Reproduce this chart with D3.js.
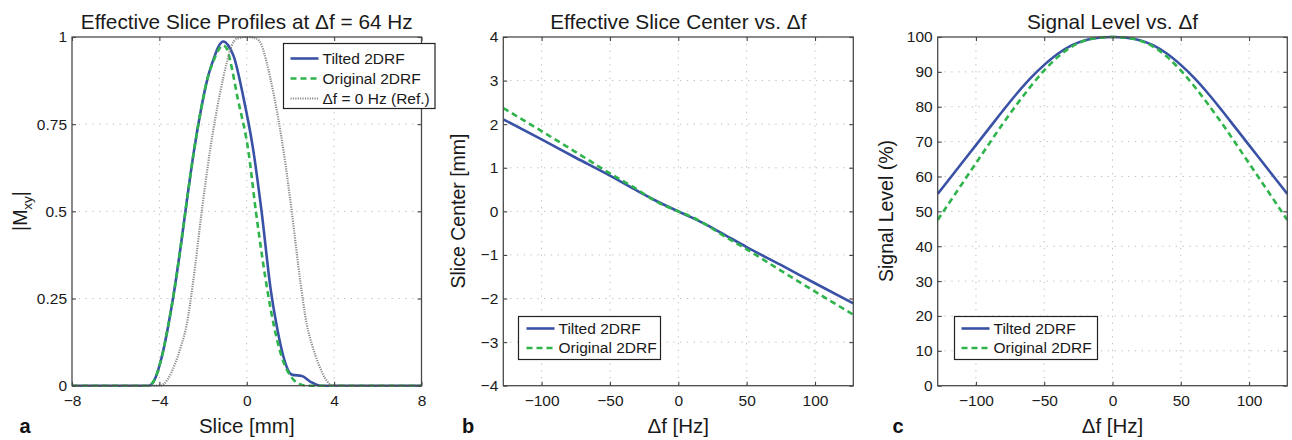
<!DOCTYPE html>
<html>
<head>
<meta charset="utf-8">
<script src="https://cdn.jsdelivr.net/npm/d3@7"></script>
<style>
  body { margin: 0; background: #fff; }
  svg { display: block; font-family: "Liberation Sans", Arial, Helvetica, sans-serif; }
</style>
</head>
<body>
<svg id="chart"></svg>
<script>
// ---- data ----
const sliceTicks = [-8, -4, 0, 4, 8];
const mxyTicks = [0, 0.25, 0.5, 0.75, 1];
const dfTicks = [-100, -50, 0, 50, 100];
const centerTicks = [-4, -3, -2, -1, 0, 1, 2, 3, 4];
const levelTicks = [0, 10, 20, 30, 40, 50, 60, 70, 80, 90, 100];

// panel a: slice profiles at df = 64 Hz
const tiltedSliceX = [-8, -4.5, -4.2, -3.9, -3.6, -3.3, -3.0, -2.7, -2.4, -2.1, -1.8, -1.5, -1.3, -1.07, -0.85, -0.6, -0.16, 0.30, 0.68, 1.1, 1.35, 1.68, 1.95, 2.1, 2.52, 2.9, 3.36, 8];
const tiltedSliceY = [0, 0, 0.02, 0.08, 0.17, 0.28, 0.41, 0.55, 0.68, 0.79, 0.88, 0.94, 0.972, 0.987, 0.976, 0.945, 0.829, 0.675, 0.499, 0.274, 0.179, 0.083, 0.038, 0.031, 0.028, 0.012, 0, 0];
const originalSliceX = [-8, -4.5, -4.2, -3.9, -3.6, -3.3, -3.0, -2.7, -2.4, -2.1, -1.8, -1.5, -1.3, -1.1, -0.9, -0.75, -0.43, 0.07, 0.42, 1.02, 1.22, 1.60, 2.16, 2.5, 2.75, 8];
const originalSliceY = [0, 0, 0.02, 0.08, 0.17, 0.28, 0.41, 0.55, 0.68, 0.79, 0.88, 0.935, 0.962, 0.976, 0.965, 0.93, 0.829, 0.675, 0.499, 0.246, 0.179, 0.083, 0.016, 0.003, 0, 0];
const refSliceX = [-8, -3.97, -3.6, -3.3, -3.0, -2.75, -2.45, -2.06, -1.68, -1.22, -0.92, -0.69, -0.46, 0, 0.46, 0.69, 0.92, 1.22, 1.68, 2.06, 2.45, 2.75, 3.0, 3.3, 3.6, 3.92, 8];
const refSliceY = [0, 0, 0.02, 0.06, 0.115, 0.175, 0.30, 0.5, 0.675, 0.84, 0.925, 0.975, 0.995, 1, 0.995, 0.975, 0.925, 0.84, 0.675, 0.5, 0.30, 0.175, 0.115, 0.06, 0.02, 0, 0];

// panel b: effective slice center vs df
const centerDf = [-128, -100, -75, -50, -30, -20, -10, 0, 10, 20, 30, 50, 75, 100, 128];
const centerTilted = [2.11, 1.65, 1.23, 0.82, 0.47, 0.30, 0.145, 0, -0.145, -0.30, -0.47, -0.82, -1.23, -1.65, -2.11];
const centerOriginal = [2.37, 1.84, 1.36, 0.87, 0.50, 0.30, 0.13, 0, -0.13, -0.30, -0.50, -0.87, -1.36, -1.84, -2.37];

// panel c: signal level vs df
const levelDf = [-128, -120, -110, -100, -90, -80, -70, -60, -50, -40, -30, -20, -10, 0, 10, 20, 30, 40, 50, 60, 70, 80, 90, 100, 110, 120, 128];
const levelTilted = [55, 59, 64, 69, 74, 79, 83.8, 88.2, 92, 95.2, 97.6, 99.1, 99.8, 100, 99.8, 99.1, 97.6, 95.2, 92, 88.2, 83.8, 79, 74, 69, 64, 59, 55];
const levelOriginal = [47.5, 52.2, 58, 63.8, 69.6, 75.3, 80.7, 85.8, 90.4, 94.3, 97.2, 99, 99.8, 100, 99.8, 99, 97.2, 94.3, 90.4, 85.8, 80.7, 75.3, 69.6, 63.8, 58, 52.2, 47.5];

const seriesNames = ["Tilted 2DRF", "Original 2DRF", "\u0394f = 0 Hz (Ref.)"];

// ---- styles ----
const BLUE = "#3a52a5", GREEN = "#2fb44b", GRAY = "#8c8c8c";
const styles = [
  { color: BLUE, width: 2.6, dash: null },
  { color: GREEN, width: 2.6, dash: "6,4" },
  { color: GRAY, width: 2.2, dash: "1.2,1.2" }
];

const width = 1292, height = 440;
const svg = d3.select("#chart").attr("width", width).attr("height", height);

const plotTop = 37, plotBottom = 385.7;

function drawPanel(o) {
  const x = d3.scaleLinear().domain(o.xDomain).range([o.left, o.right]);
  const y = d3.scaleLinear().domain(o.yDomain).range([plotBottom, plotTop]);
  const g = svg.append("g");

  // grid
  g.append("g").selectAll("line").data(o.xTicks.filter(t => t > o.xDomain[0] && t < o.xDomain[1]))
    .join("line")
    .attr("x1", d => x(d)).attr("x2", d => x(d)).attr("y1", plotTop).attr("y2", plotBottom)
    .attr("stroke", "#bdbdbd").attr("stroke-width", 1).attr("stroke-dasharray", "1.3,5.5");
  g.append("g").selectAll("line").data(o.yTicks.filter(t => t > o.yDomain[0] && t < o.yDomain[1]))
    .join("line")
    .attr("y1", d => y(d)).attr("y2", d => y(d)).attr("x1", o.left).attr("x2", o.right)
    .attr("stroke", "#bdbdbd").attr("stroke-width", 1).attr("stroke-dasharray", "1.3,5.5");

  // series
  o.series.forEach((s, i) => {
    const st = styles[i];
    const line = d3.line().x(d => x(d[0])).y(d => y(d[1])).curve(d3.curveMonotoneX);
    g.append("path")
      .datum(d3.zip(s.x, s.y))
      .attr("d", line)
      .attr("fill", "none")
      .attr("stroke", st.color)
      .attr("stroke-width", st.width)
      .attr("stroke-dasharray", st.dash);
  });

  // axes: ticks inside on all four sides
  const tl = 4;
  const axB = g.append("g").attr("transform", `translate(0,${plotBottom})`)
    .call(d3.axisBottom(x).tickValues(o.xTicks).tickSize(-tl).tickPadding(8).tickFormat(o.xFormat || (d => d)));
  const axT = g.append("g").attr("transform", `translate(0,${plotTop})`)
    .call(d3.axisTop(x).tickValues(o.xTicks).tickSize(-tl).tickFormat(""));
  const axL = g.append("g").attr("transform", `translate(${o.left},0)`)
    .call(d3.axisLeft(y).tickValues(o.yTicks).tickSize(-tl).tickPadding(5).tickFormat(o.yFormat || (d => d)));
  const axR = g.append("g").attr("transform", `translate(${o.right},0)`)
    .call(d3.axisRight(y).tickValues(o.yTicks).tickSize(-tl).tickFormat(""));
  [axB, axT, axL, axR].forEach(a => {
    a.select(".domain").remove();
    a.selectAll(".tick line").attr("stroke", "#444").attr("stroke-width", 1.1);
    a.selectAll("text").attr("fill", "#1a1a1a").style("font-size", "15.5px")
      .style("font-family", "'Liberation Sans', Arial, sans-serif");
  });
  axB.selectAll(".tick text").attr("dy", "0.71em").attr("y", 9);

  g.append("rect")
    .attr("x", o.left).attr("y", plotTop).attr("width", o.right - o.left).attr("height", plotBottom - plotTop)
    .attr("fill", "none").attr("stroke", "#4a4a4a").attr("stroke-width", 1.3);

  // title and labels
  g.append("text").attr("x", (o.left + o.right) / 2).attr("y", 28.5)
    .attr("text-anchor", "middle").style("font-size", "20.8px").attr("fill", "#1a1a1a").text(o.title);
  g.append("text").attr("x", (o.left + o.right) / 2).attr("y", 432.5)
    .attr("text-anchor", "middle").style("font-size", "20.5px").attr("fill", "#1a1a1a").text(o.xLabel);
  const yl = g.append("text").attr("transform", `translate(${o.yLabelX},211) rotate(-90)`)
    .attr("text-anchor", "middle").style("font-size", "19.5px").attr("fill", "#1a1a1a");
  if (o.yLabelSub) {
    yl.append("tspan").text(o.yLabel[0]);
    yl.append("tspan").attr("dy", 5).style("font-size", "13.5px").text(o.yLabelSub);
    yl.append("tspan").attr("dy", -5).text(o.yLabel[1]);
  } else {
    yl.text(o.yLabel);
  }
  g.append("text").attr("x", o.letterX).attr("y", 432.5).attr("text-anchor", "middle")
    .style("font-size", "20px").style("font-weight", "bold").attr("fill", "#111").text(o.letter);

  // legend
  const lg = o.legend;
  g.append("rect").attr("x", lg.x).attr("y", lg.y).attr("width", lg.w).attr("height", lg.h)
    .attr("fill", "#fff").attr("stroke", "#222").attr("stroke-width", 1.2);
  o.series.forEach((s, i) => {
    const st = styles[i];
    const ry = lg.y + lg.row0 + i * lg.rowStep;
    g.append("line").attr("x1", lg.x + lg.lx0).attr("x2", lg.x + lg.lx1).attr("y1", ry).attr("y2", ry)
      .attr("stroke", st.color).attr("stroke-width", st.width).attr("stroke-dasharray", st.dash);
    g.append("text").attr("x", lg.x + lg.tx).attr("y", ry).attr("dy", "0.35em")
      .style("font-size", "15.5px").attr("fill", "#1a1a1a").text(seriesNames[i]);
  });
}

drawPanel({
  left: 72, right: 421.5, xDomain: [-8, 8], yDomain: [0, 1],
  xTicks: sliceTicks, yTicks: mxyTicks,
  xFormat: d => String(d).replace("-", "\u2212"),
  yFormat: d => d,
  title: "Effective Slice Profiles at \u0394f = 64 Hz",
  xLabel: "Slice [mm]", yLabel: ["|M", "|"], yLabelSub: "xy", yLabelX: 27,
  letter: "a", letterX: 25,
  series: [
    { x: tiltedSliceX, y: tiltedSliceY },
    { x: originalSliceX, y: originalSliceY },
    { x: refSliceX, y: refSliceY }
  ],
  legend: { x: 283.5, y: 43.5, w: 151.5, h: 65, row0: 15, rowStep: 20, lx0: 7, lx1: 35, tx: 39 }
});

drawPanel({
  left: 503.3, right: 853.3, xDomain: [-128, 128], yDomain: [-4, 4],
  xTicks: dfTicks, yTicks: centerTicks,
  xFormat: d => String(d).replace("-", "\u2212"),
  yFormat: d => String(d).replace("-", "\u2212"),
  title: "Effective Slice Center vs. \u0394f",
  xLabel: "\u0394f [Hz]", yLabel: "Slice Center [mm]", yLabelX: 465,
  letter: "b", letterX: 468,
  series: [
    { x: centerDf, y: centerTilted },
    { x: centerDf, y: centerOriginal }
  ],
  legend: { x: 518.5, y: 316.5, w: 142, h: 43, row0: 12, rowStep: 19.5, lx0: 8, lx1: 36, tx: 40 }
});

drawPanel({
  left: 937.7, right: 1287.3, xDomain: [-128, 128], yDomain: [0, 100],
  xTicks: dfTicks, yTicks: levelTicks,
  xFormat: d => String(d).replace("-", "\u2212"),
  yFormat: d => d,
  title: "Signal Level vs. \u0394f",
  xLabel: "\u0394f [Hz]", yLabel: "Signal Level (%)", yLabelX: 893,
  letter: "c", letterX: 898,
  series: [
    { x: levelDf, y: levelTilted },
    { x: levelDf, y: levelOriginal }
  ],
  legend: { x: 954.5, y: 316.5, w: 143, h: 43, row0: 12, rowStep: 19.5, lx0: 7, lx1: 35, tx: 39 }
});
</script>
</body>
</html>
